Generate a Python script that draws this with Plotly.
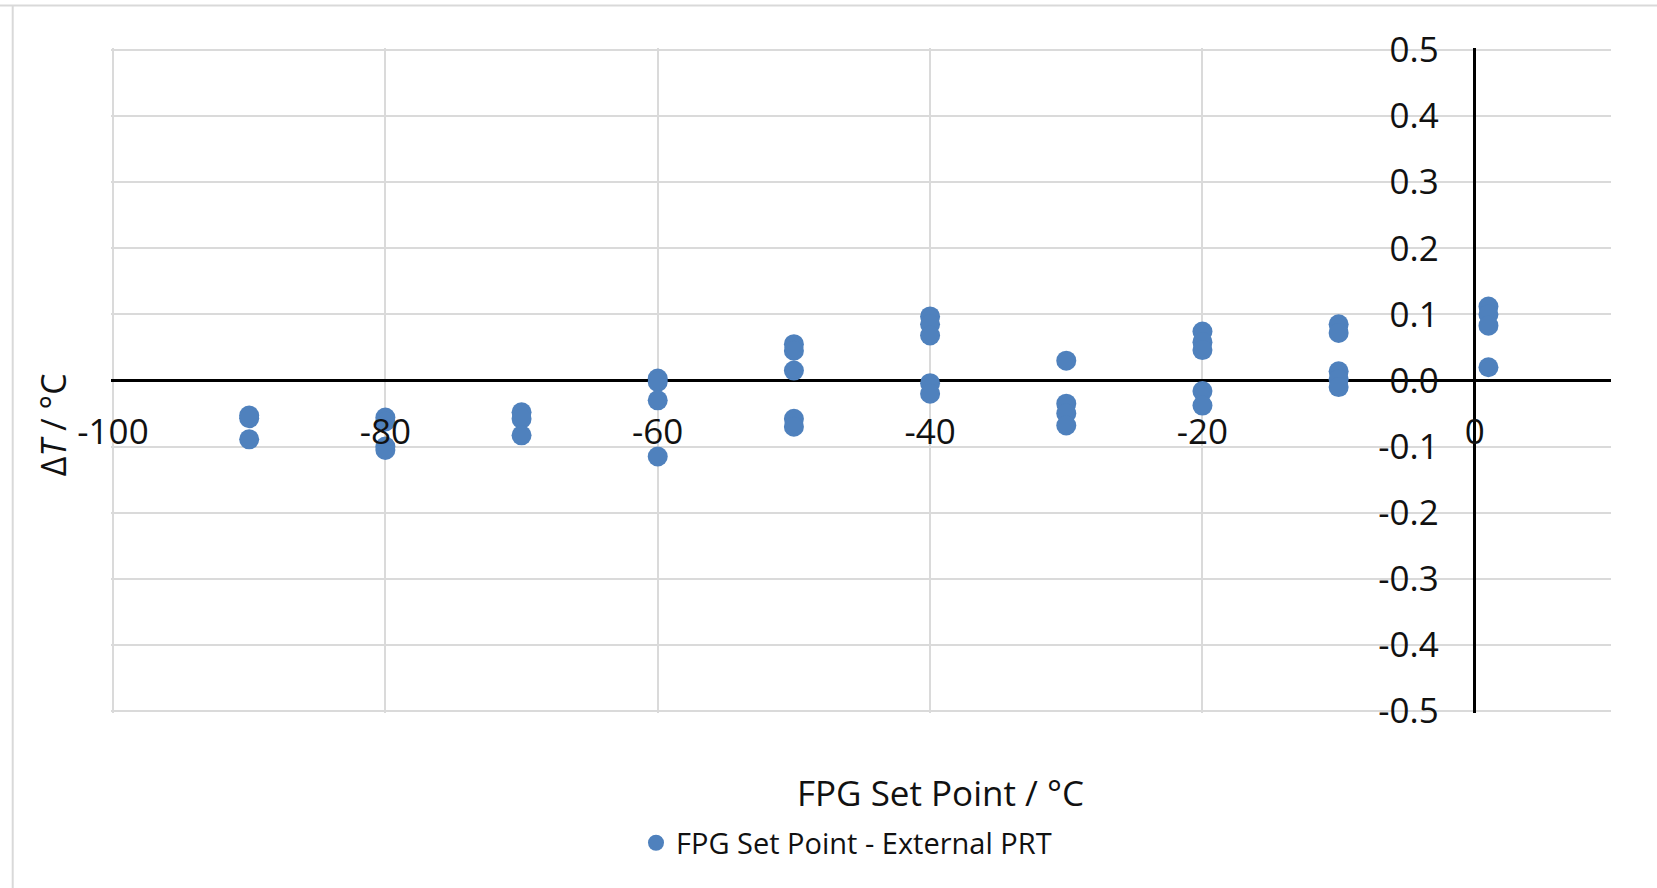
import plotly.graph_objects as go

# FPG set point (°C) and temperature difference ΔT (°C) for each reading
set_point = [
    -90, -90, -90,
    -80, -80, -80, -80,
    -70, -70, -70,
    -60, -60, -60, -60,
    -50, -50, -50, -50, -50,
    -40, -40, -40, -40, -40,
    -30, -30, -30, -30,
    -20, -20, -20, -20, -20,
    -10, -10, -10, -10, -10,
    1, 1, 1, 1,
]
delta_t = [
    -0.053, -0.057, -0.089,
    -0.056, -0.062, -0.100, -0.105,
    -0.048, -0.058, -0.083,
    0.003, -0.002, -0.030, -0.115,
    0.055, 0.045, 0.015, -0.058, -0.070,
    0.097, 0.085, 0.068, -0.004, -0.020,
    0.030, -0.035, -0.050, -0.068,
    0.074, 0.058, 0.046, -0.016, -0.038,
    0.085, 0.072, 0.014, 0.002, -0.010,
    0.112, 0.100, 0.083, 0.020,
]

x_ticks = [-100, -80, -60, -40, -20, 0]
x_tick_text = ["-100", "-80", "-60", "-40", "-20", "0"]
y_ticks = [-0.5, -0.4, -0.3, -0.2, -0.1, 0.0, 0.1, 0.2, 0.3, 0.4, 0.5]
y_tick_text = ["-0.5", "-0.4", "-0.3", "-0.2", "-0.1", "0.0", "0.1", "0.2", "0.3", "0.4", "0.5"]

series_name = "FPG Set Point - External PRT"
x_title = "FPG Set Point / °C"
y_title = "Δ<i>T</i> / °C"

FONT = "Open Sans"
TEXT = "#111111"
GRID = "#dadada"
BLUE = "#4f81bd"

W, H = 1657, 888
# ranges are padded by a couple of pixels so the boundary gridlines are kept
L, R, T, B = 111, 46, 47.5, 175
X_MIN, X_MAX = -100.147, 10
Y_MIN, Y_MAX = -0.503, 0.503

plot_w = W - L - R
plot_h = H - T - B


def px_to_paper_x(px):
    return (px - L) / plot_w


def px_to_paper_y(py):
    return (H - B - py) / plot_h


fig = go.Figure(
    go.Scatter(
        x=set_point,
        y=delta_t,
        mode="markers",
        name=series_name,
        marker=dict(color=BLUE, size=20, line=dict(width=0)),
        showlegend=True,
    )
)

fig.update_layout(
    width=W,
    height=H,
    margin=dict(l=L, r=R, t=T, b=B),
    paper_bgcolor="white",
    plot_bgcolor="white",
    font=dict(family=FONT, color=TEXT),
    showlegend=True,
    legend=dict(
        orientation="h",
        x=px_to_paper_x(636),
        xanchor="left",
        y=px_to_paper_y(843),
        yanchor="middle",
        font=dict(family=FONT, size=29, color=TEXT),
        bgcolor="rgba(0,0,0,0)",
    ),
    xaxis=dict(
        range=[X_MIN, X_MAX],
        tickmode="array",
        tickvals=x_ticks,
        ticktext=x_tick_text,
        showgrid=True,
        gridcolor=GRID,
        gridwidth=2,
        zeroline=True,
        zerolinecolor="black",
        zerolinewidth=3,
        showline=False,
        ticks="",
        anchor="free",
        position=(0 - Y_MIN) / (Y_MAX - Y_MIN),
        ticklabelstandoff=27,
        tickfont=dict(family=FONT, size=35, color=TEXT),
    ),
    yaxis=dict(
        range=[Y_MIN, Y_MAX],
        tickmode="array",
        tickvals=y_ticks,
        ticktext=y_tick_text,
        showgrid=True,
        gridcolor=GRID,
        gridwidth=2,
        zeroline=True,
        zerolinecolor="black",
        zerolinewidth=3,
        showline=False,
        ticks="",
        anchor="free",
        position=(0 - X_MIN) / (X_MAX - X_MIN),
        ticklabelstandoff=36,
        tickfont=dict(family=FONT, size=35, color=TEXT),
    ),
)

# axis titles
fig.add_annotation(
    text=x_title,
    xref="paper", yref="paper",
    x=px_to_paper_x(940), y=px_to_paper_y(793),
    xanchor="center", yanchor="middle",
    showarrow=False,
    font=dict(family=FONT, size=35, color=TEXT),
)
fig.add_annotation(
    text=y_title,
    xref="paper", yref="paper",
    x=px_to_paper_x(53), y=px_to_paper_y(425),
    xanchor="center", yanchor="middle",
    textangle=-90,
    showarrow=False,
    font=dict(family=FONT, size=34, color=TEXT),
)

# thin chart-area frame along the top and left edges
fig.add_shape(
    type="line", xref="paper", yref="paper",
    x0=px_to_paper_x(0), x1=px_to_paper_x(W + 5),
    y0=px_to_paper_y(5), y1=px_to_paper_y(5),
    line=dict(color="#d9d9d9", width=2),
)
fig.add_shape(
    type="line", xref="paper", yref="paper",
    x0=px_to_paper_x(12.7), x1=px_to_paper_x(12.7),
    y0=px_to_paper_y(5), y1=px_to_paper_y(H + 5),
    line=dict(color="#d9d9d9", width=2),
)

fig.write_html("out.html")
